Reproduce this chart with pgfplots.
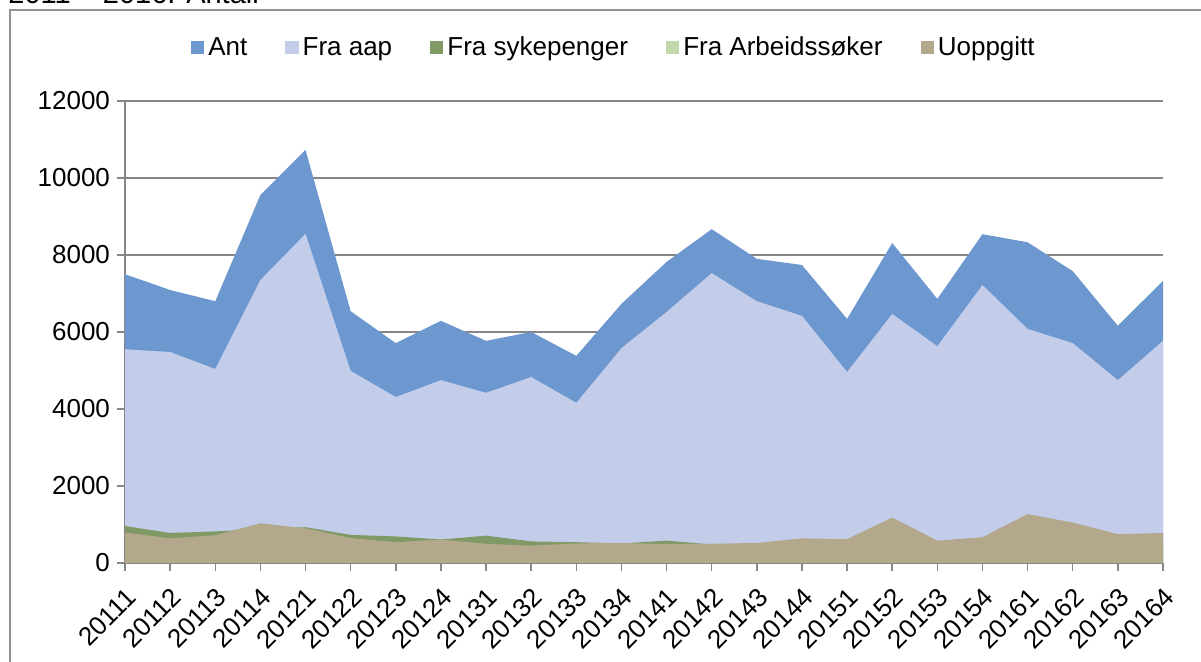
\documentclass[border=0pt]{standalone}
\usepackage{fontspec}
\setmainfont{Liberation Sans}
\usepackage{pgfplots}
\usepackage{pgfplotstable}
\pgfplotsset{compat=1.18}
\definecolor{cAnt}{RGB}{108,151,207}
\definecolor{cAap}{RGB}{195,205,233}
\definecolor{cSyk}{RGB}{127,154,101}
\definecolor{cArb}{RGB}{193,216,170}
\definecolor{cUop}{RGB}{179,168,140}
\definecolor{cGrid}{RGB}{134,134,134}
\pgfplotstableread{
x ant aap syk arb uop
0 7500 5550 960 250 790
1 7090 5480 780 220 640
2 6800 5040 820 230 720
3 9560 7350 880 250 1030
4 10730 8550 930 240 900
5 6540 4990 730 210 650
6 5710 4310 690 200 540
7 6290 4750 610 190 610
8 5770 4420 710 190 500
9 6000 4830 560 180 450
10 5380 4160 540 170 510
11 6730 5580 510 170 520
12 7820 6520 580 170 490
13 8670 7530 480 160 500
14 7900 6800 470 160 520
15 7740 6420 500 170 640
16 6340 4960 480 170 620
17 8310 6470 500 180 1180
18 6860 5630 480 170 580
19 8540 7220 500 180 670
20 8330 6080 520 190 1270
21 7580 5710 500 180 1050
22 6160 4750 480 170 750
23 7330 5770 480 170 780
}\data
\begin{document}
\begin{tikzpicture}
\begin{scope}
\clip (0pt,0pt) rectangle (600.5pt,331pt);
\node[anchor=base west, inner sep=0pt, font=\fontsize{14.5}{16}\selectfont] at (4pt,329.3pt) {2011 – 2016. Antall};
\draw[cGrid!90, line width=0.8pt] (5pt,-2pt) -- (5pt,326pt) -- (605pt,326pt);
\end{scope}
\begin{axis}[
  at={(62.5pt,49.5pt)}, anchor=south west,
  scale only axis, width=519pt, height=231pt,
  xmin=0, xmax=23, ymin=0, ymax=12000,
  enlarge x limits=false,
  axis x line*=bottom, axis y line*=left,
  axis line style={cGrid, line width=0.75pt},
  ytick={0,2000,...,12000},
  scaled y ticks=false,
  xtick=data,
  xticklabels={20111,20112,20113,20114,20121,20122,20123,20124,20131,20132,20133,20134,20141,20142,20143,20144,20151,20152,20153,20154,20161,20162,20163,20164},
  ymajorgrids, grid style={cGrid, line width=0.75pt},
  tick style={cGrid, line width=0.75pt},
  tick align=outside, major tick length=4pt,
  ticklabel style={font=\fontsize{13}{15}\selectfont},
  xticklabel style={rotate=45, anchor=east, xshift=-2pt, yshift=-10pt},
  /pgf/number format/assume math mode=true,
  /pgf/number format/1000 sep={},
  legend style={at={(0.472,1.115)}, anchor=center, draw=none, fill=none,
    font=\fontsize{13}{15}\selectfont, legend columns=5,
    /tikz/every even column/.append style={column sep=17pt}},
  legend image code/.code={\fill[#1] (0pt,-3.3pt) rectangle (6.6pt,3.3pt);},
]
\addplot[fill=cAnt, draw=none] table[x=x,y=ant]{\data} \closedcycle;
\addplot[fill=cAap, draw=none] table[x=x,y=aap]{\data} \closedcycle;
\addplot[fill=cSyk, draw=none] table[x=x,y=syk]{\data} \closedcycle;
\addplot[fill=cArb, draw=none] table[x=x,y=arb]{\data} \closedcycle;
\addplot[fill=cUop, draw=none] table[x=x,y=uop]{\data} \closedcycle;
\legend{Ant,Fra aap,Fra sykepenger,Fra Arbeidssøker,Uoppgitt}
\end{axis}
\pgfresetboundingbox
\useasboundingbox (0pt,0pt) rectangle (600.5pt,331pt);
\end{tikzpicture}
\end{document}
